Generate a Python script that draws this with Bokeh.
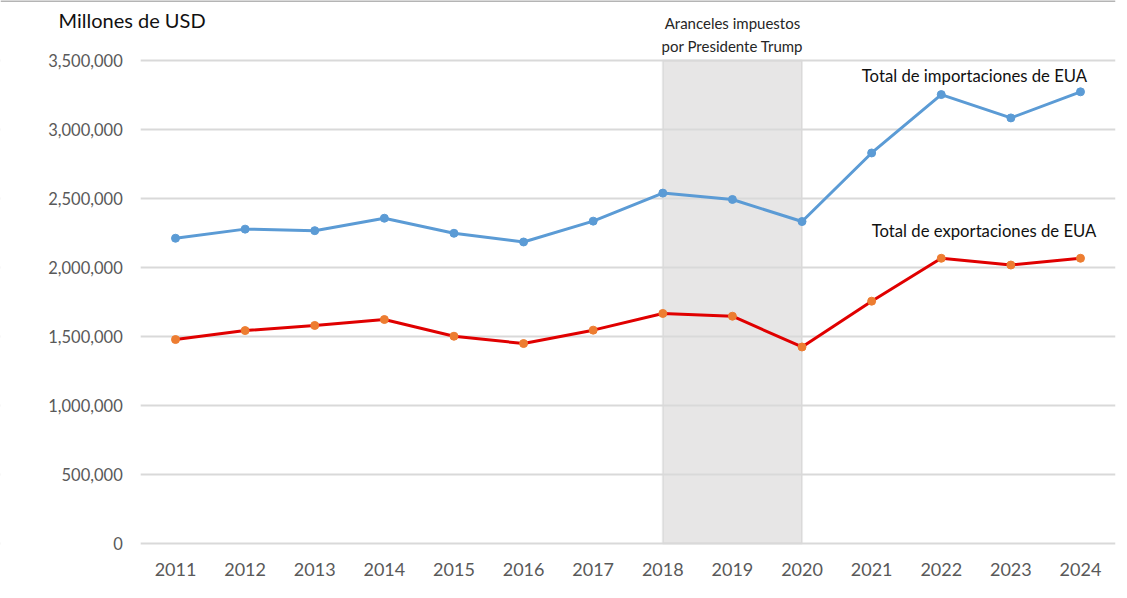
from bokeh.plotting import figure
from bokeh.models import (Range1d, FixedTicker, NumeralTickFormatter, BoxAnnotation, Label,
                          ColumnDataSource, Span)
from bokeh.embed import file_html
from bokeh.resources import INLINE

years = list(range(2011, 2025))
imports = [2212000, 2278000, 2267000, 2357000, 2248000, 2185000, 2336000,
           2539000, 2493000, 2333000, 2830000, 3253000, 3084000, 3273000]
exports = [1478000, 1543000, 1580000, 1623000, 1502000, 1449000, 1546000,
           1667000, 1647000, 1424000, 1756000, 2067000, 2018000, 2067000]
y_ticks = [0, 500000, 1000000, 1500000, 2000000, 2500000, 3000000, 3500000]
tariff_start, tariff_end = 2018, 2020

FONT = "Lato"
Y_END = 3934783
src = ColumnDataSource(dict(year=years, imp=imports, exp=exports))

p = figure(width=1119, height=590, output_backend="svg", toolbar_location=None,
           x_range=Range1d(2008.486, 2024.503), y_range=Range1d(-340580, Y_END),
           min_border_left=0, min_border_right=4, min_border_top=0, min_border_bottom=0)
p.outline_line_color = None
p.background_fill_color = "white"

p.xgrid.visible = False
p.ygrid.grid_line_color = "#d9d9d9"
p.ygrid.grid_line_width = 2
p.yaxis.ticker = FixedTicker(ticks=y_ticks)
p.xaxis.ticker = FixedTicker(ticks=years)
p.yaxis.formatter = NumeralTickFormatter(format="0,0")
p.xaxis.formatter = NumeralTickFormatter(format="0")
p.yaxis.fixed_location = 2010.5
p.xaxis.fixed_location = 0
for ax in (p.xaxis, p.yaxis):
    ax.axis_line_color = None
    ax.major_tick_line_color = None
    ax.minor_tick_line_color = None
    ax.major_tick_out = 0
    ax.major_tick_in = 0
    ax.major_label_text_color = "#595959"
    ax.major_label_text_font = FONT
    ax.major_label_text_font_size = "16.5px"
p.xaxis.major_label_text_font_size = "18px"
p.yaxis.major_label_standoff = 18
p.xaxis.major_label_standoff = 20

# white panel hiding grid lines left of the plotting area
p.add_layout(BoxAnnotation(right=2010.5, fill_color="white", fill_alpha=1.0,
                           line_color=None, level="glyph"))

p.add_layout(BoxAnnotation(left=tariff_start, right=tariff_end, bottom=0, top=3500000,
                           fill_color="#e7e6e6", fill_alpha=1.0,
                           line_color="#bcbcbc", line_width=2, level="image"))

p.add_layout(Span(location=Y_END, dimension="width", line_color="#b4b4b4", line_width=3))

p.line("year", "imp", source=src, line_color="#5b9bd5", line_width=3)
p.scatter("year", "imp", source=src, size=8, fill_color="#5b9bd5", line_color="#5b9bd5")
p.line("year", "exp", source=src, line_color="#e00000", line_width=3)
p.scatter("year", "exp", source=src, size=8, fill_color="#ed7d31", line_color="#ed7d31")

def lab(x, y, t, size="14px", color="#1a1a1a", align="center", baseline="middle"):
    p.add_layout(Label(x=x, y=y, text=t, text_font=FONT, text_font_size=size,
                       text_color=color, text_align=align, text_baseline=baseline))

lab(2009.319, 3877000, "Millones de USD", size="20px", color="#111111", align="left", baseline="top")
lab(2019, 3775000, "Aranceles impuestos", size="15px", color="#262626")
lab(2019, 3608000, "por Presidente Trump", size="15px", color="#262626")
lab(2022.477, 3391000, "Total de importaciones de EUA", size="16.7px", color="#111111")
lab(2022.614, 2261000, "Total de exportaciones de EUA", size="16.7px", color="#111111")

open("out.html", "w").write(file_html(p, INLINE))
